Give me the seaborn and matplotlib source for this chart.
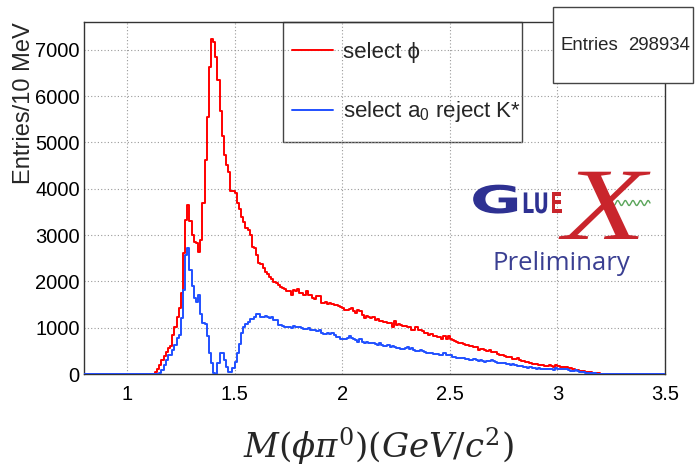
import numpy as np
import pandas as pd
import matplotlib
matplotlib.use("Agg")
import matplotlib.pyplot as plt
import seaborn as sns
from matplotlib.lines import Line2D
from matplotlib.patches import Rectangle
from matplotlib.ticker import MultipleLocator, FixedLocator
from matplotlib import patheffects
from matplotlib.transforms import Affine2D

# ---------------------------------------------------------------------------
# Histogram contents: 10 MeV bins of M(phi pi0), listed from the first
# populated bin (lower edge 1.13 GeV) upward.  All other bins are empty.
# ---------------------------------------------------------------------------
mass_min, mass_max, bin_width = 0.80, 3.50, 0.01
first_bin_low_edge = 1.13

select_phi = [
    # 1.13 - 1.49
    40, 100, 200, 300, 380, 480, 560, 600, 840, 1020,
    1240, 1420, 1750, 2610, 3330, 3650, 3300, 3000, 2860, 2830,
    2640, 2890, 3690, 4620, 5560, 6630, 7240, 7160, 6850, 6350,
    5670, 5150, 4720, 4520, 4370, 3950, 3960,
    # 1.50 - 1.99
    3900, 3700, 3570, 3400, 3290, 3150, 3100, 3000, 2750, 2720,
    2570, 2390, 2370, 2280, 2210, 2150, 2100, 2060, 1990, 1960,
    1930, 1880, 1850, 1830, 1800, 1790, 1710, 1810, 1790, 1830,
    1740, 1760, 1710, 1790, 1700, 1710, 1635, 1620, 1690, 1680,
    1540, 1530, 1550, 1520, 1530, 1510, 1500, 1500, 1470, 1440,
    # 2.00 - 2.49
    1420, 1380, 1390, 1410, 1420, 1350, 1310, 1380, 1370, 1270,
    1220, 1250, 1230, 1220, 1230, 1170, 1180, 1150, 1150, 1130,
    1130, 1110, 1100, 1010, 1150, 1060, 1090, 1060, 1040, 1030,
    1010, 1020, 960, 940, 1010, 960, 950, 930, 880, 890,
    840, 860, 820, 810, 800, 790, 750, 810, 750, 810,
    # 2.50 - 2.99
    750, 740, 720, 700, 660, 670, 650, 630, 620, 610,
    600, 590, 590, 520, 550, 530, 510, 500, 520, 480,
    470, 465, 440, 420, 405, 390, 375, 360, 360, 330,
    320, 335, 300, 290, 270, 265, 250, 240, 225, 215,
    215, 195, 195, 195, 180, 175, 185, 175, 145, 195,
    # 3.00 - 3.20
    170, 160, 150, 155, 145, 140, 120, 110, 95, 86,
    75, 75, 55, 50, 45, 35, 28, 20, 15, 12, 8,
]

select_a0_reject_kstar = [
    # 1.13 - 1.49
    5, 10, 30, 90, 190, 300, 410, 420, 520, 630,
    770, 850, 1200, 1810, 2570, 2720, 2250, 1890, 1640, 1560,
    1710, 1300, 1100, 1090, 810, 450, 230, 20, 10, 230,
    450, 450, 300, 160, 50, 40, 120,
    # 1.50 - 1.99
    250, 450, 650, 880, 1020, 1080, 1130, 1180, 1190, 1240,
    1300, 1290, 1240, 1230, 1250, 1230, 1220, 1240, 1166, 1160,
    1058, 1065, 1045, 1022, 1015, 1022, 1000, 1040, 1022, 1015,
    1015, 990, 975, 975, 990, 950, 945, 950, 930, 945,
    880, 864, 870, 875, 870, 875, 840, 806, 790, 760,
    # 2.00 - 2.49
    760, 750, 770, 810, 780, 750, 740, 700, 750, 700,
    660, 700, 680, 660, 660, 650, 630, 660, 630, 610,
    615, 630, 575, 600, 575, 555, 555, 545, 540, 555,
    575, 540, 555, 520, 500, 490, 520, 505, 480, 460,
    450, 450, 440, 430, 430, 420, 410, 450, 420, 410,
    # 2.50 - 2.99
    400, 374, 365, 345, 350, 340, 340, 330, 320, 305,
    310, 320, 300, 285, 300, 290, 266, 280, 285, 300,
    270, 250, 245, 230, 245, 235, 225, 215, 195, 215,
    195, 180, 173, 170, 145, 145, 130, 145, 125, 123,
    118, 123, 115, 105, 100, 100, 100, 100, 86, 123,
    # 3.00 - 3.19
    110, 105, 100, 115, 110, 95, 55, 70, 85, 70,
    50, 40, 35, 30, 25, 15, 15, 12, 10, 5,
]

legend_labels = [r"select ϕ", r"select a$_0$ reject K*"]
x_tick_values = [1, 1.5, 2, 2.5, 3, 3.5]
x_tick_labels = ["1", "1.5", "2", "2.5", "3", "3.5"]
y_tick_values = [0, 1000, 2000, 3000, 4000, 5000, 6000, 7000]
total_entries = 298934

RED = "#ff0000"
BLUE = "#2050ff"


class Stretch(patheffects.AbstractPathEffect):
    """Draw a text glyph scaled about its own origin."""

    def __init__(self, sx=1.0, sy=1.0):
        super().__init__()
        self.sx, self.sy = sx, sy

    def draw_path(self, renderer, gc, tpath, affine, rgbFace=None):
        renderer.draw_path(gc, tpath, Affine2D().scale(self.sx, self.sy) + affine, rgbFace)


def hist_frame(values):
    centers = first_bin_low_edge + bin_width * (np.arange(len(values)) + 0.5)
    return pd.DataFrame({"mass": centers, "entries": values})


sns.set_style("white")
plt.rcParams.update({
    "font.family": ["Liberation Sans", "DejaVu Sans"],
    "mathtext.fontset": "custom",
    "mathtext.rm": "Liberation Sans",
    "mathtext.it": "Liberation Sans:italic",
    "mathtext.bf": "Liberation Sans:bold",
})

W, H = 697, 468
fig = plt.figure(figsize=(W / 100, H / 100), dpi=100)
fig.patch.set_facecolor("white")


def fx(px):
    return px / W


def fy(py):
    return 1 - py / H


ax = fig.add_axes([fx(84), fy(374), (665 - 84) / W, (374 - 22) / H])
ax.set_facecolor("white")

edges = [float(e) for e in np.round(np.arange(mass_min, mass_max + bin_width / 2, bin_width), 4)]

sns.histplot(data=hist_frame(select_phi), x="mass", weights="entries", bins=edges,
             element="step", fill=False, color=RED, linewidth=1.4, ax=ax, zorder=3)
sns.histplot(data=hist_frame(select_a0_reject_kstar), x="mass", weights="entries", bins=edges,
             element="step", fill=False, color=BLUE, linewidth=1.4, ax=ax, zorder=4)

ax.set_xlim(mass_min, mass_max)
ax.set_ylim(0, 1.05 * max(select_phi))

# axes, ticks and grid
ax.xaxis.set_major_locator(FixedLocator(x_tick_values))
ax.set_xticklabels(x_tick_labels)
ax.xaxis.set_minor_locator(MultipleLocator(0.1))
ax.yaxis.set_major_locator(FixedLocator(y_tick_values))
ax.yaxis.set_minor_locator(MultipleLocator(200))
ax.tick_params(axis="both", which="both", direction="in", colors="#333333",
               labelcolor="black", top=False, right=False)
ax.tick_params(axis="y", which="major", length=11.5, width=1.0, labelsize=14.5, pad=3)
ax.tick_params(axis="y", which="minor", length=6, width=0.9)
ax.tick_params(axis="x", which="major", length=5.5, width=1.0, labelsize=14.5, pad=8)
ax.tick_params(axis="x", which="minor", length=4.5, width=0.9)
ax.grid(True, which="major", color="#9a9a9a", linestyle=(0, (1, 2)), linewidth=0.8)
ax.set_axisbelow(True)
for side in ["left", "right", "top", "bottom"]:
    ax.spines[side].set_visible(True)
    ax.spines[side].set_color("#333333")
    ax.spines[side].set_linewidth(1.0)

ax.set_ylabel("Entries/10 MeV", fontsize=17, loc="top")
ax.yaxis.set_label_coords(-0.084, 1.0)
ax.set_xlabel(r"$M(\phi\pi^0)(GeV/c^2)$", fontsize=24.5, math_fontfamily="dejavuserif")
ax.xaxis.set_label_coords(0.506, -0.148)

# legend with its own frame
handles = [Line2D([], [], color=RED, lw=1.4), Line2D([], [], color=BLUE, lw=1.4)]
ax.legend(handles, legend_labels, frameon=False, fontsize=16, loc="center left",
          bbox_to_anchor=((292 - 84) / 581, (374 - 83) / 352), borderpad=0,
          borderaxespad=0, handlelength=1.85, handletextpad=0.45, labelspacing=1.65)
fig.add_artist(Rectangle((fx(283), fy(142)), (522 - 283) / W, (142 - 22) / H,
                         transform=fig.transFigure, facecolor="white",
                         edgecolor="#444444", linewidth=1.0, zorder=1.5))
ax.set_zorder(2)
ax.patch.set_visible(False)
fig.patch.set_zorder(0)

# statistics box
fig.add_artist(Rectangle((fx(553), fy(83)), (693 - 553) / W, (83 - 7) / H,
                         transform=fig.transFigure, facecolor="white",
                         edgecolor="#444444", linewidth=1.0, zorder=10))
fig.text(fx(561), fy(46), "Entries", ha="left", va="center", fontsize=13.4, zorder=11)
fig.text(fx(690), fy(46), f"{total_entries}", ha="right", va="center", fontsize=13.4, zorder=11)

# GlueX logo
LOGO_BLUE = "#2e3192"
LOGO_RED = "#c9252c"
fig.text(fx(470), fy(213), "G", fontsize=27.5, fontweight="bold", family="DejaVu Sans",
         color=LOGO_BLUE, ha="left", va="baseline", zorder=5,
         path_effects=[Stretch(1.65, 1.0)])
fig.text(fx(522), fy(213), "LU", fontsize=14, fontweight="bold", family="DejaVu Sans",
         color=LOGO_BLUE, ha="left", va="baseline", zorder=5,
         path_effects=[Stretch(0.98, 1.45)])
fig.text(fx(550), fy(213), "E", fontsize=14, fontweight="bold", family="DejaVu Sans",
         color=LOGO_RED, ha="left", va="baseline", zorder=5,
         path_effects=[Stretch(0.98, 1.45)])
fig.text(fx(563), fy(239), "X", fontsize=40, family="Liberation Serif", style="italic",
         color=LOGO_RED, ha="left", va="baseline", zorder=5,
         path_effects=[Stretch(2.45, 1.85)])
wave_t = np.linspace(0, 1, 200)
fig.add_artist(Line2D(fx(612 + 38 * wave_t), fy(203 + 2.5 * np.sin(2 * np.pi * 5 * wave_t)),
                      transform=fig.transFigure, color="#5aa55a", lw=1.0, zorder=5))
fig.text(fx(492), fy(270), "Preliminary", fontsize=18.5, family="Open Sans",
         color="#3a3f92", ha="left", va="baseline", zorder=5)

fig.savefig("out.png", dpi=100, facecolor="white")
